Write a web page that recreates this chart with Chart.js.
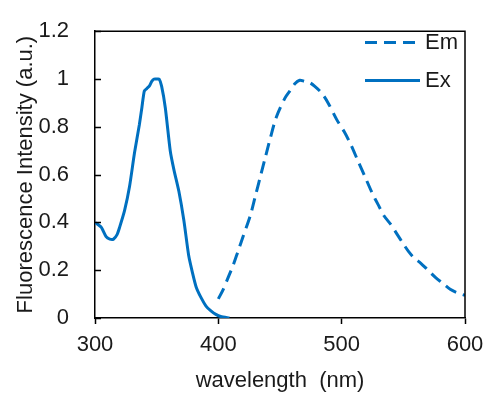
<!DOCTYPE html>
<html>
<head>
<meta charset="utf-8">
<script src="https://cdn.jsdelivr.net/npm/chart.js@4"></script>
<style>
  html, body { margin: 0; padding: 0; background: #fff; }
  #wrap { width: 500px; height: 399px; }
</style>
</head>
<body>
<div id="wrap"><canvas id="specChart" width="500" height="399"></canvas></div>
<script>
// Excitation spectrum (solid)
var exWave = [300, 305, 309, 312, 315, 318, 320, 324, 328, 332, 336, 338, 340, 342, 344, 346, 348, 350, 352, 354, 357, 361, 364, 368, 372, 376, 379, 382, 386, 390, 394, 398, 402, 409];
var exVals = [0.40, 0.38, 0.34, 0.33, 0.33, 0.35, 0.38, 0.45, 0.55, 0.69, 0.81, 0.88, 0.95, 0.96, 0.97, 0.99, 1.00, 1.00, 1.00, 0.97, 0.88, 0.70, 0.62, 0.53, 0.41, 0.26, 0.19, 0.13, 0.085, 0.05, 0.03, 0.015, 0.006, 0];

// Emission spectrum (dashed)
var emWave = [400, 404, 408, 412, 416, 420, 426, 430, 434, 438, 442, 447, 454, 458, 462, 466, 470, 474, 478, 484, 489, 496, 502, 507, 513, 519, 525, 530, 534, 540, 545, 550, 554, 559, 564, 570, 576, 582, 588, 594, 600];
var emVals = [0.08, 0.12, 0.17, 0.22, 0.28, 0.34, 0.43, 0.51, 0.59, 0.67, 0.75, 0.84, 0.92, 0.95, 0.98, 0.995, 0.99, 0.985, 0.97, 0.94, 0.90, 0.83, 0.78, 0.73, 0.66, 0.59, 0.52, 0.47, 0.43, 0.39, 0.35, 0.31, 0.28, 0.25, 0.23, 0.20, 0.17, 0.145, 0.12, 0.105, 0.095];

var seriesNames = ['Em', 'Ex'];
var xTicks = [300, 400, 500, 600];
var yTicks = [0, 0.2, 0.4, 0.6, 0.8, 1, 1.2];
var yTickLabels = ['0', '0.2', '0.4', '0.6', '0.8', '1', '1.2'];

var blue = '#0070C0';
var ink = '#1a1a1a';
var fontFam = '"Liberation Sans", Arial, sans-serif';
var fontSize = 22;

function toPoints(xs, ys) {
    return xs.map(function (x, i) { return { x: x, y: ys[i] }; });
}

// top/right frame, inward y ticks and the legend
var extras = {
    id: 'extras',
    afterDraw: function (chart) {
        var ctx = chart.ctx;
        var a = chart.chartArea;
        var ys = chart.scales.y;
        ctx.save();
        ctx.strokeStyle = '#000';
        ctx.lineWidth = 1.5;
        ctx.beginPath();
        ctx.moveTo(a.left, a.top);
        ctx.lineTo(a.right, a.top);
        ctx.lineTo(a.right, a.bottom);
        ctx.stroke();

        ctx.beginPath();
        yTicks.forEach(function (v) {
            var py = Math.round(ys.getPixelForValue(v)) + 0.5;
            ctx.moveTo(a.left, py);
            ctx.lineTo(a.left + 6, py);
        });
        ctx.stroke();

        // legend
        var ds = chart.data.datasets;
        var rows = [42.5, 80.5];
        ds.forEach(function (d, i) {
            ctx.strokeStyle = d.borderColor;
            ctx.lineWidth = d.borderWidth;
            ctx.setLineDash(d.borderDash || []);
            ctx.beginPath();
            ctx.moveTo(365, rows[i]);
            ctx.lineTo(420, rows[i]);
            ctx.stroke();
            ctx.setLineDash([]);
            ctx.fillStyle = ink;
            ctx.font = fontSize + 'px ' + fontFam;
            ctx.textBaseline = 'middle';
            ctx.textAlign = 'left';
            ctx.fillText(d.label, 425, rows[i]);
        });
        ctx.restore();
    }
};

var ctx = document.getElementById('specChart').getContext('2d');

new Chart(ctx, {
    type: 'line',
    data: {
        datasets: [{
            label: seriesNames[0],
            data: toPoints(emWave, emVals),
            borderColor: blue,
            borderWidth: 3,
            borderDash: [12, 7],
            pointRadius: 0,
            tension: 0.3,
            fill: false
        }, {
            label: seriesNames[1],
            data: toPoints(exWave, exVals),
            borderColor: blue,
            borderWidth: 3,
            pointRadius: 0,
            tension: 0.2,
            fill: false
        }]
    },
    options: {
        responsive: false,
        animation: false,
        layout: { padding: { left: 0, top: 25, right: 35, bottom: 0 } },
        plugins: {
            legend: { display: false },
            tooltip: { enabled: false }
        },
        scales: {
            x: {
                type: 'linear',
                min: 300,
                max: 600,
                afterBuildTicks: function (s) { s.ticks = xTicks.map(function (v) { return { value: v }; }); },
                afterFit: function (s) { s.height = 81; },
                grid: { drawOnChartArea: false, drawTicks: true, tickLength: 6, tickWidth: 1.5, tickColor: '#000' },
                border: { color: '#000', width: 1.5 },
                ticks: { color: ink, font: { family: fontFam, size: fontSize }, padding: 8, maxRotation: 0 },
                title: { display: true, text: 'wavelength  (nm)', color: ink, font: { family: fontFam, size: fontSize }, padding: { top: 0, bottom: 5 } }
            },
            y: {
                min: 0,
                max: 1.2,
                afterBuildTicks: function (s) { s.ticks = yTicks.map(function (v) { return { value: v }; }); },
                afterFit: function (s) { s.width = 95; },
                grid: { display: false },
                border: { color: '#000', width: 1.5 },
                ticks: {
                    color: ink,
                    font: { family: fontFam, size: fontSize },
                    padding: 18,
                    callback: function (v, i) { return yTickLabels[i]; }
                },
                title: { display: true, text: 'Fluorescence Intensity (a.u.)', color: ink, font: { family: fontFam, size: fontSize }, padding: { top: 13, bottom: 0 } }
            }
        }
    },
    plugins: [extras]
});
</script>
</body>
</html>
